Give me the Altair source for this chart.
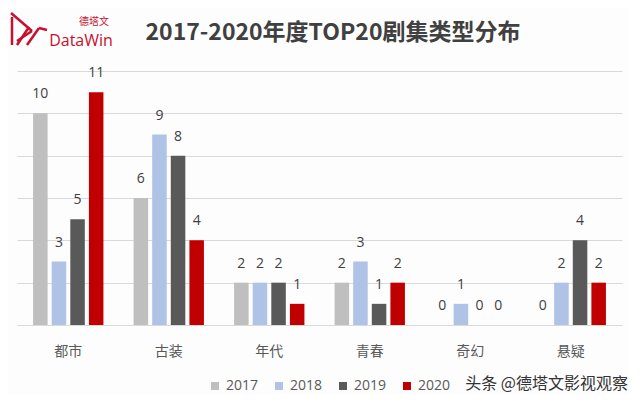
import altair as alt
import pandas as pd

categories = ["都市", "古装", "年代", "青春", "奇幻", "悬疑"]
years = ["2017", "2018", "2019", "2020"]
v2017 = [10, 6, 2, 2, 0, 0]
v2018 = [3, 9, 2, 3, 1, 2]
v2019 = [5, 8, 2, 1, 0, 4]
v2020 = [11, 4, 1, 2, 0, 2]
colors = ["#BFBFBF", "#AEC3E6", "#595959", "#C00000"]
y_ticks = [0, 2, 4, 6, 8, 10, 12]

title_text = "2017-2020年度TOP20剧集类型分布"
watermark = "头条 @德塔文影视观察"

series = {"2017": v2017, "2018": v2018, "2019": v2019, "2020": v2020}
rows = []
for yr in years:
    for c, v in zip(categories, series[yr]):
        rows.append({"cat": c, "year": yr, "value": v})
df = pd.DataFrame(rows)

CJK = "Noto Sans CJK SC"
W, H = 605, 254

x_enc = alt.X("cat:N", sort=categories,
              scale=alt.Scale(paddingInner=0.3, paddingOuter=0.16),
              axis=alt.Axis(title=None, ticks=False, domain=False, labelAngle=0,
                            labelFont=CJK, labelFontSize=14, labelColor="#595959",
                            labelPadding=19, grid=False))
xo_enc = alt.XOffset("year:N", sort=years, scale=alt.Scale(paddingInner=0.22))
y_enc = alt.Y("value:Q", scale=alt.Scale(domain=[0, 12]),
              axis=alt.Axis(title=None, values=y_ticks, labels=False, ticks=False,
                            domain=False, grid=True, gridColor="#D9D9D9", gridWidth=1))

base = alt.Chart(df)
bars = base.mark_bar().encode(
    x=x_enc, xOffset=xo_enc, y=y_enc,
    color=alt.Color("year:N", sort=years,
                    scale=alt.Scale(domain=years, range=colors),
                    legend=alt.Legend(title=None, orient="none", direction="horizontal",
                                      legendX=191, legendY=308, padding=0,
                                      symbolType="square", symbolSize=64,
                                      symbolStrokeWidth=0, labelFont="Open Sans",
                                      labelFontSize=14, labelColor="#595959",
                                      labelOffset=4, columnPadding=13)),
)
labels = base.mark_text(font="Open Sans", fontSize=14, color="#404040",
                        baseline="middle", dy=-19).encode(
    x=alt.X("cat:N", sort=categories), xOffset=alt.XOffset("year:N", sort=years),
    y="value:Q", text="value:Q")

one = pd.DataFrame({"t": [title_text]})
title = alt.Chart(one).mark_text(font=CJK, fontSize=23, fontWeight="bold",
                                 color="#404040", align="center", baseline="middle").encode(
    x=alt.value(316), y=alt.value(-38), text="t:N")

wm = alt.Chart(pd.DataFrame({"t": [watermark]})).mark_text(
    font=CJK, fontSize=16, color="#333333", align="right", baseline="middle").encode(
    x=alt.value(611), y=alt.value(313), text="t:N")

logo_red = "#C8102E"
logo1 = alt.Chart(pd.DataFrame({"t": ["DataWin"]})).mark_text(
    font="Open Sans", fontSize=16, color=logo_red, align="center", baseline="middle").encode(
    x=alt.value(81 - 17), y=alt.value(41 - 71), text="t:N")
logo2 = alt.Chart(pd.DataFrame({"t": ["德塔文"]})).mark_text(
    font=CJK, fontSize=10, color=logo_red, align="center", baseline="middle").encode(
    x=alt.value(94 - 17), y=alt.value(22 - 71), text="t:N")

segs = [((11, 13), (32, 31)), ((12, 17), (12, 45)), ((32, 31), (17, 41)),
        ((17, 45), (29, 27)), ((27, 45), (39, 28)), ((39, 28), (47, 30))]
glyphs = []
for (a, b) in segs:
    glyphs.append(alt.Chart(one).mark_rule(color=logo_red, strokeWidth=2.5).encode(
        x=alt.value(a[0] - 17), y=alt.value(a[1] - 71),
        x2=alt.value(b[0] - 17), y2=alt.value(b[1] - 71)))

chart = alt.layer(bars, labels, title, wm, logo1, logo2, *glyphs).properties(
    width=W, height=H, background="#FDFDFD",
    autosize=alt.AutoSizeParams(type="none"),
    padding={"left": 9, "top": 63, "right": 8, "bottom": 70},
).configure_view(stroke=None)

chart.save("out.html", embed_options={"renderer": "svg", "actions": False})
